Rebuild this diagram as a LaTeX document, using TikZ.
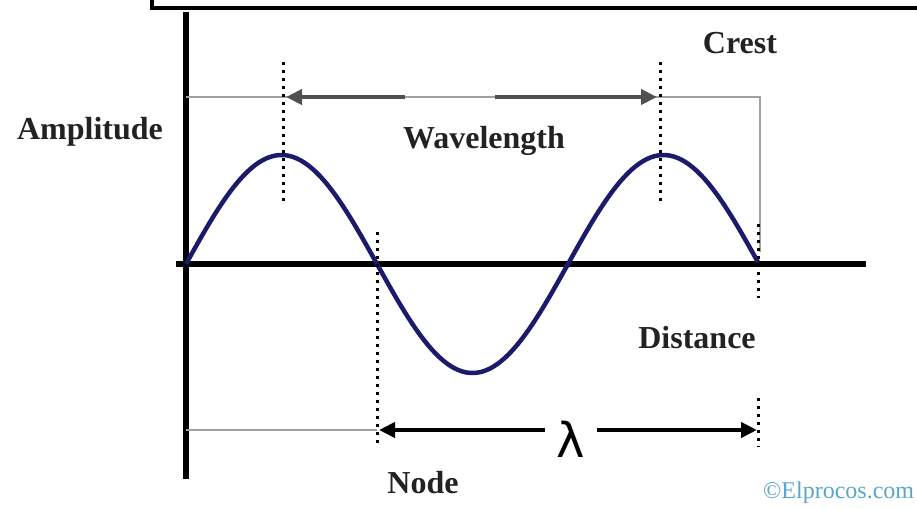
\documentclass[tikz,border=0pt]{standalone}
\usepackage{fontspec}
\setmainfont{Liberation Serif}
\newfontfamily\lamfont{DejaVu Sans}
\usetikzlibrary{arrows.meta}
\definecolor{wavecol}{HTML}{1C1B6B}
\definecolor{guidecol}{HTML}{A0A0A0}
\definecolor{spancol}{HTML}{505050}
\definecolor{textcol}{HTML}{222222}
\definecolor{markcol}{HTML}{5AA5C8}

\begin{document}
\begin{tikzpicture}[x=1pt, y=-1pt,
    lbl/.style={font=\fontsize{32}{36}\selectfont\bfseries, text=textcol, inner sep=0pt},
    axis/.style={line width=6.5pt, black},
    wave/.style={wavecol, line width=4.5pt, line join=round},
    dots/.style={black, line width=3pt, dash pattern=on 3pt off 5pt},
    guide/.style={guidecol, line width=2pt},
    span/.style={line width=4.5pt, -{Triangle[length=16pt, width=15pt]}},
]
\useasboundingbox (0,0) rectangle (917,509);
\def\Ax{186}
\def\Ay{264}

% frame left over from the box above
\draw[black, line width=3.5pt] (152,-6) -- (152,8) -- (930,8);

% axes
\draw[axis] (\Ax,12) -- (\Ax,479);
\draw[axis] (176,\Ay) -- (866,\Ay);

% guide lines
\draw[guide] (\Ax,97) -- (760,97) -- (760,252);
\draw[guide] (\Ax,430) -- (377,430);

% the wave, one and a half periods
\draw[wave] plot[domain=0:572, samples=150] ({\Ax+\x}, {\Ay-109*sin(\x/382*360)});

% dotted markers
\draw[dots] (283,62) -- (283,205);
\draw[dots] (660,62) -- (660,205);
\draw[dots] (377,232) -- (377,447);
\draw[dots] (758,224) -- (758,298);
\draw[dots] (758,398) -- (758,447);

% wavelength between the crests
\coordinate (crestL) at (286,97);
\coordinate (crestR) at (657,97);
\coordinate (gapL) at (405,97);
\coordinate (gapR) at (495,97);
\draw[span, spancol] (gapL) -- (crestL);
\draw[span, spancol] (gapR) -- (crestR);

% wavelength between the nodes
\node[font=\lamfont\fontsize{48}{52}\selectfont, inner xsep=12pt, inner ysep=0pt] (lam) at (571,439) {λ};
\coordinate (nodeL) at (379,430);
\coordinate (nodeR) at (757,430);
\draw[span, black] (lam.west |- nodeL) -- (nodeL);
\draw[span, black] (lam.east |- nodeR) -- (nodeR);

% labels
\node[lbl] (crest) at (740,43) {Crest};
\node[lbl] (amp) at (90,132) {Amplitude};
\node[lbl] (wlen) at (484,141) {Wavelength};
\node[lbl] (dist) at (697,338) {Distance};
\node[lbl] (node) at (423,483) {Node};
\node[font=\fontsize{24}{28}\selectfont, text=markcol, anchor=west, inner sep=0pt] (mark) at (763,493) {©Elprocos.com};
\end{tikzpicture}
\end{document}
